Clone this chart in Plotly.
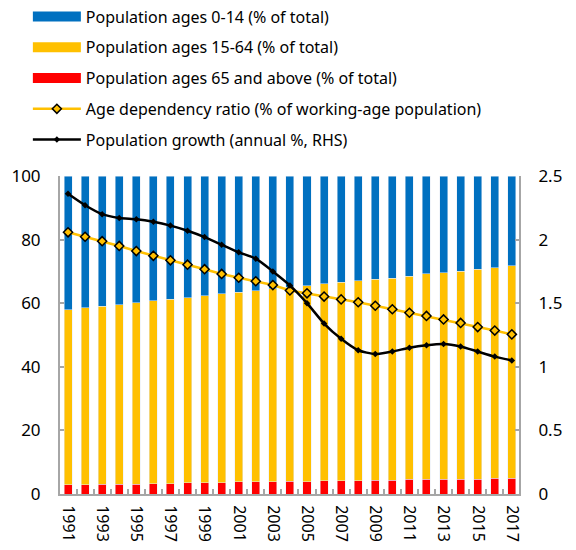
import plotly.graph_objects as go

# Dati
years = list(range(1991, 2018))

# quota 65+ (% del totale)
pop_65 = [2.9, 2.9, 3.1, 3.1, 3.1, 3.2, 3.2, 3.5, 3.5, 3.6, 3.8, 3.8, 3.8, 4.0,
          3.9, 4.1, 4.1, 4.2, 4.4, 4.4, 4.6, 4.7, 4.7, 4.7, 4.7, 4.9, 4.9]
# 65+ e 15-64 cumulati (confine giallo/blu)
cum_15_64 = [57.9, 58.5, 59.0, 59.5, 60.2, 60.7, 61.2, 61.7, 62.3, 62.9, 63.5, 63.9, 64.5, 65.0,
             65.5, 66.1, 66.6, 67.0, 67.5, 67.9, 68.5, 69.2, 69.6, 70.1, 70.6, 71.1, 71.8]
pop_15_64 = [round(c - o, 1) for c, o in zip(cum_15_64, pop_65)]
pop_0_14 = [round(100 - c, 1) for c in cum_15_64]

dep_ratio = [82.3, 80.9, 79.5, 78.0, 76.4, 74.9, 73.5, 72.1, 70.7, 69.2, 68.0, 66.9, 65.7, 64.0,
             63.1, 62.1, 61.2, 60.3, 59.2, 58.1, 57.0, 56.0, 54.9, 53.8, 52.5, 51.4, 50.2]
pop_growth = [2.36, 2.27, 2.20, 2.17, 2.16, 2.14, 2.11, 2.07, 2.02, 1.96, 1.90, 1.85, 1.75, 1.64,
              1.50, 1.34, 1.22, 1.13, 1.10, 1.12, 1.15, 1.17, 1.18, 1.16, 1.12, 1.08, 1.05]

x_labels = [str(y) for y in years if y % 2 == 1]

BLUE = '#0070C0'
YELLOW = '#FFC000'
RED = '#FF0000'
GRAY = '#A6A6A6'
FONT = 'Noto Sans'

fig = go.Figure()

# barre impilate (dal basso verso l'alto)
fig.add_trace(go.Bar(x=years, y=pop_65, marker_color=RED, showlegend=False))
fig.add_trace(go.Bar(x=years, y=pop_15_64, marker_color=YELLOW, showlegend=False))
fig.add_trace(go.Bar(x=years, y=pop_0_14, marker_color=BLUE, showlegend=False))

# voci di legenda per le barre
legend_bars = [('Population ages 0-14 (% of total)', BLUE),
               ('Population ages 15-64 (% of total)', YELLOW),
               ('Population ages 65 and above (% of total)', RED)]
for i, (name, col) in enumerate(legend_bars):
    fig.add_trace(go.Scatter(x=[None], y=[None], mode='lines', name=name,
                             line={'color': col, 'width': 12},
                             legendgroup=f'g{i}', legendrank=i + 1))

fig.add_trace(go.Scatter(
    x=years, y=dep_ratio, mode='lines+markers',
    name='Age dependency ratio (% of working-age population)',
    line={'color': YELLOW, 'width': 2.5},
    marker={'symbol': 'diamond', 'size': 7, 'color': YELLOW,
            'line': {'color': 'black', 'width': 1.5}},
    legendgroup='g3', legendrank=4
))

fig.add_trace(go.Scatter(
    x=years, y=pop_growth, mode='lines+markers', yaxis='y2',
    name='Population growth (annual %, RHS)',
    line={'color': 'black', 'width': 2.5, 'shape': 'spline', 'smoothing': 0.6},
    marker={'symbol': 'diamond', 'size': 5, 'color': 'black'},
    legendgroup='g4', legendrank=5
))

# la pagina ha un margine di 8px: figura un po' più piccola
fig.update_layout(
    width=568, height=542,
    barmode='stack', bargap=0.53,
    plot_bgcolor='white', paper_bgcolor='white',
    font={'family': FONT, 'color': 'black', 'size': 16},
    margin={'l': 52, 'r': 57, 't': 168, 'b': 56, 'autoexpand': False},
    legend={'x': -0.07, 'y': 1.555, 'xanchor': 'left', 'yanchor': 'top',
            'traceorder': 'grouped', 'tracegroupgap': 7,
            'font': {'size': 16}, 'itemwidth': 48, 'bgcolor': 'rgba(0,0,0,0)'},
    xaxis={'range': [1990.53, 2017.42], 'tickmode': 'array',
           'tickvals': [int(v) for v in x_labels], 'ticktext': x_labels,
           'tickangle': 90, 'ticks': '', 'showgrid': False, 'zeroline': False,
           'showline': True, 'linecolor': GRAY, 'linewidth': 2,
           'tickfont': {'size': 16}, 'ticklabelstandoff': 6,
           'minor': {'ticks': 'inside', 'tickmode': 'linear', 'tick0': 1990.5, 'dtick': 1,
                     'ticklen': 5, 'tickcolor': GRAY, 'tickwidth': 2, 'showgrid': False}},
    yaxis={'range': [0, 100], 'dtick': 20, 'showgrid': False, 'zeroline': False,
           'showline': True, 'linecolor': GRAY, 'linewidth': 2,
           'ticks': 'inside', 'ticklen': 4, 'tickcolor': GRAY, 'tickwidth': 2,
           'tickfont': {'size': 17}, 'ticklabelstandoff': 14},
    yaxis2={'range': [0, 2.5], 'dtick': 0.5, 'overlaying': 'y', 'side': 'right',
            'showgrid': False, 'zeroline': False,
            'showline': True, 'linecolor': GRAY, 'linewidth': 2,
            'ticks': 'inside', 'ticklen': 4, 'tickcolor': GRAY, 'tickwidth': 2,
            'tickfont': {'size': 17}, 'ticklabelstandoff': 14},
)

fig.write_html('out.html')
